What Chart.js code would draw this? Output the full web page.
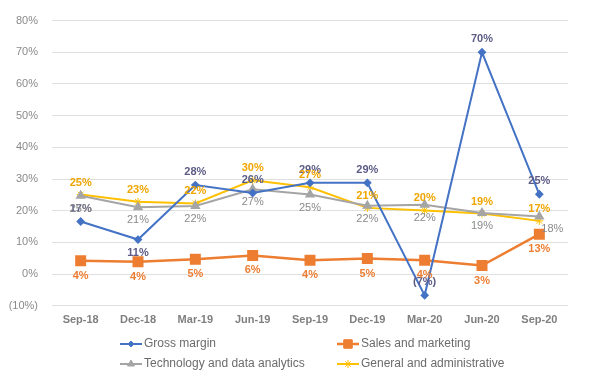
<!DOCTYPE html>
<html>
<head>
<meta charset="utf-8">
<script src="https://cdn.jsdelivr.net/npm/chart.js@4/dist/chart.umd.min.js"></script>
<style>
  body { margin: 0; background: #fff; }
  #chart { display: block; }
</style>
</head>
<body>
<canvas id="chart" width="600" height="376"></canvas>
<script>
// quarters along the x axis
const categories = ["Sep-18", "Dec-18", "Mar-19", "Jun-19", "Sep-19", "Dec-19", "Mar-20", "Jun-20", "Sep-20"];

// values in percent
const grossMargin = [16.6, 10.9, 28.1, 25.6, 28.8, 28.8, -6.7, 70.0, 25.2];
const salesMarketing = [4.2, 3.9, 4.7, 5.9, 4.4, 4.9, 4.4, 2.7, 12.6];
const techAnalytics = [24.7, 21.1, 21.5, 26.8, 25.1, 21.6, 21.9, 19.3, 18.2];
const generalAdmin = [25.1, 22.8, 22.3, 29.6, 27.4, 20.9, 20.1, 19.1, 16.8];

const yTicks = [-10, 0, 10, 20, 30, 40, 50, 60, 70, 80];

const FONT = "'Liberation Sans', Arial, sans-serif";

const pct = v => v < 0 ? "(" + Math.round(-v) + "%)" : Math.round(v) + "%";

// where each data label sits relative to its point
const labelPos = {
    0: ["above", "below", "above", "above", "above", "above", "above", "above", "above"],
    1: ["below", "below", "below", "below", "below", "below", "below", "below", "below"],
    2: ["below", "below", "below", "below", "below", "below", "below", "below", "right"],
    3: ["above", "above", "above", "above", "above", "above", "above", "above", "above"],
};

const labelStyle = [
    { color: "#5b5b86", bold: true, gap: 13 },
    { color: "#ed7d31", bold: true, gap: 15 },
    { color: "#8a8a8a", bold: false, gap: 13 },
    { color: "#f0a500", bold: true, gap: 12 },
];

const dataLabels = {
    id: "dataLabels",
    afterDatasetsDraw(chart) {
        const ctx = chart.ctx;
        ctx.save();
        ctx.textAlign = "center";
        ctx.textBaseline = "middle";
        chart.data.datasets.forEach((ds, i) => {
            const meta = chart.getDatasetMeta(i);
            const st = labelStyle[i];
            ctx.fillStyle = st.color;
            ctx.font = (st.bold ? "bold " : "") + "11px " + FONT;
            meta.data.forEach((pt, j) => {
                const pos = labelPos[i][j];
                let x = pt.x, y = pt.y;
                if (pos === "above") y -= st.gap;
                else if (pos === "below") y += st.gap;
                else { x += 2; y += 13; ctx.textAlign = "left"; }
                ctx.fillText(pct(ds.data[j]), x, y);
                ctx.textAlign = "center";
            });
        });
        ctx.restore();
    }
};

// two-column legend under the axis
const legendBox = {
    id: "legendBox",
    afterDraw(chart) {
        const ctx = chart.ctx;
        const cols = [120, 337];
        const rows = [344, 364];
        ctx.save();
        ctx.font = "12px " + FONT;
        ctx.textBaseline = "middle";
        ctx.textAlign = "left";
        chart.data.datasets.forEach((ds, i) => {
            const x = cols[i % 2], y = rows[Math.floor(i / 2)];
            ctx.strokeStyle = ds.borderColor;
            ctx.lineWidth = ds.borderWidth;
            ctx.beginPath();
            ctx.moveTo(x, y);
            ctx.lineTo(x + 22, y);
            ctx.stroke();
            ctx.fillStyle = ds.borderColor;
            ctx.lineWidth = 1;
            Chart.helpers.drawPoint(ctx, {
                pointStyle: ds.pointStyle,
                radius: ds.pointRadius,
                rotation: 0,
                borderWidth: 1
            }, x + 11, y);
            ctx.fillStyle = "#6b6b6b";
            ctx.fillText(ds.label, x + 24, y);
        });
        ctx.restore();
    }
};

function lineSet(label, data, color, style, radius, extra) {
    return Object.assign({
        label: label,
        data: data,
        borderColor: color,
        backgroundColor: color,
        pointBackgroundColor: color,
        pointBorderColor: color,
        borderWidth: 2,
        pointStyle: style,
        pointRadius: radius,
        pointHoverRadius: radius,
        tension: 0,
    }, extra || {});
}

new Chart(document.getElementById("chart"), {
    type: "line",
    data: {
        labels: categories,
        datasets: [
            lineSet("Gross margin", grossMargin, "#4472c4", "rectRot", 3),
            lineSet("Sales and marketing", salesMarketing, "#ed7d31", "rect", 6, { borderWidth: 2.5 }),
            lineSet("Technology and data analytics", techAnalytics, "#a5a5a5", "triangle", 4),
            lineSet("General and administrative", generalAdmin, "#ffc000", "star", 4, { pointBorderWidth: 1 }),
        ]
    },
    options: {
        responsive: false,
        animation: false,
        layout: { padding: { top: 16, right: 32, bottom: 49, left: 0 } },
        plugins: {
            legend: { display: false },
            tooltip: { enabled: false }
        },
        scales: {
            x: {
                offset: true,
                grid: { display: false },
                border: { display: false },
                ticks: {
                    color: "#7f7f7f",
                    font: { family: FONT, size: 11, weight: "bold" },
                    maxRotation: 0,
                    padding: 0
                }
            },
            y: {
                min: yTicks[0],
                max: yTicks[yTicks.length - 1],
                afterFit(scale) { scale.width = 52; },
                afterBuildTicks(scale) { scale.ticks = yTicks.map(v => ({ value: v })); },
                grid: { color: "#e0e0e0", lineWidth: 1, drawTicks: false },
                border: { display: false },
                ticks: {
                    color: "#8a8a8a",
                    font: { family: FONT, size: 11 },
                    padding: 14,
                    callback: v => pct(v)
                }
            }
        }
    },
    plugins: [dataLabels, legendBox]
});
</script>
</body>
</html>
